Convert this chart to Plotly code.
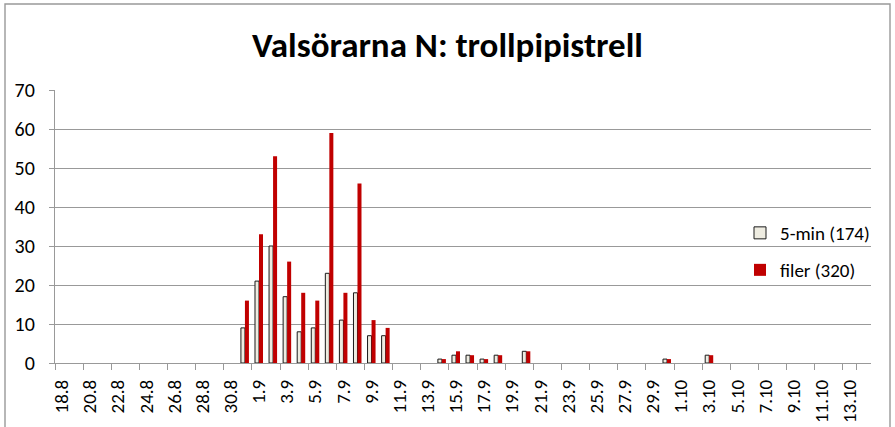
import plotly.graph_objects as go

categories = [
    "18.8", "19.8", "20.8", "21.8", "22.8", "23.8", "24.8", "25.8", "26.8", "27.8",
    "28.8", "29.8", "30.8", "31.8",
    "1.9", "2.9", "3.9", "4.9", "5.9", "6.9", "7.9", "8.9", "9.9", "10.9",
    "11.9", "12.9", "13.9", "14.9", "15.9", "16.9", "17.9", "18.9", "19.9", "20.9",
    "21.9", "22.9", "23.9", "24.9", "25.9", "26.9", "27.9", "28.9", "29.9", "30.9",
    "1.10", "2.10", "3.10", "4.10", "5.10", "6.10", "7.10", "8.10", "9.10", "10.10",
    "11.10", "12.10", "13.10", "14.10",
]

data_dates = ["31.8", "1.9", "2.9", "3.9", "4.9", "5.9", "6.9", "7.9", "8.9", "9.9", "10.9",
              "14.9", "15.9", "16.9", "17.9", "18.9", "20.9", "30.9", "3.10"]
five_min = [9, 21, 30, 17, 8, 9, 23, 11, 18, 7, 7,
            1, 2, 2, 1, 2, 3, 1, 2]
filer = [16, 33, 53, 26, 18, 16, 59, 18, 46, 11, 9,
         1, 3, 2, 1, 2, 3, 1, 2]

tick_labels = categories[::2]
y_ticks = [0, 10, 20, 30, 40, 50, 60, 70]

W, H = 895, 427
L, R, T, B = 55, 24, 90, 64
pw, ph = W - L - R, H - T - B

def px_x(px):
    return (px - L) / pw

def px_y(py):
    return (H - B - py) / ph

fig = go.Figure()
fig.add_trace(go.Bar(
    x=data_dates, y=five_min, name="5-min (174)",
    marker=dict(color="#eeece1", line=dict(color="#1a1a1a", width=1)),
    legend="legend",
))
fig.add_trace(go.Bar(
    x=data_dates, y=filer, name="filer (320)",
    marker=dict(color="#c00000", line=dict(color="#c00000", width=0)),
    legend="legend2",
))

font_family = "Carlito, Open Sans, sans-serif"
axis_gray = "#999999"

fig.update_layout(
    width=W, height=H,
    margin=dict(l=L, r=R, t=T, b=B, autoexpand=False),
    paper_bgcolor="white", plot_bgcolor="white",
    barmode="group", bargap=0.43, bargroupgap=0.0,
    title=dict(text="<b>Valsörarna N: trollpipistrell</b>", x=0.5, xanchor="center",
               y=1 - 45 / H, yanchor="middle",
               font=dict(family=font_family, size=35, color="black")),
    font=dict(family=font_family, color="black"),
    showlegend=True,
    legend=dict(x=px_x(740), y=px_y(233), xanchor="left", yanchor="middle",
                font=dict(size=19), bgcolor="rgba(0,0,0,0)", itemwidth=30),
    legend2=dict(x=px_x(740), y=px_y(270), xanchor="left", yanchor="middle",
                 font=dict(size=19), bgcolor="rgba(0,0,0,0)", itemwidth=30),
    xaxis=dict(
        type="category", categoryorder="array", categoryarray=categories,
        range=[-0.5, len(categories) - 0.5],
        tickmode="array", tickvals=tick_labels, ticktext=tick_labels,
        tickangle=-90, tickson="boundaries", automargin=False,
        ticks="outside", ticklen=6, tickcolor=axis_gray, tickwidth=1.4,
        showline=True, linecolor=axis_gray, linewidth=1.4,
        showgrid=False, tickfont=dict(size=19), ticklabelstandoff=8,
    ),
    yaxis=dict(
        range=[0, 70], tickvals=y_ticks, automargin=False,
        showgrid=True, gridcolor=axis_gray, gridwidth=1.4,
        ticks="outside", ticklen=5, tickcolor=axis_gray, tickwidth=1.4,
        showline=True, linecolor=axis_gray, linewidth=1.4,
        zeroline=False, tickfont=dict(size=20), ticklabelstandoff=10,
    ),
    shapes=[dict(type="rect", xref="paper", yref="paper",
                 x0=px_x(5), x1=px_x(890), y0=px_y(432), y1=px_y(4),
                 line=dict(color=axis_gray, width=1.4), fillcolor="rgba(0,0,0,0)",
                 layer="below")],
)

fig.write_html(
    "out.html",
    config={"displayModeBar": False},
    post_script="document.body.style.margin='0';document.body.style.overflow='hidden';",
)
